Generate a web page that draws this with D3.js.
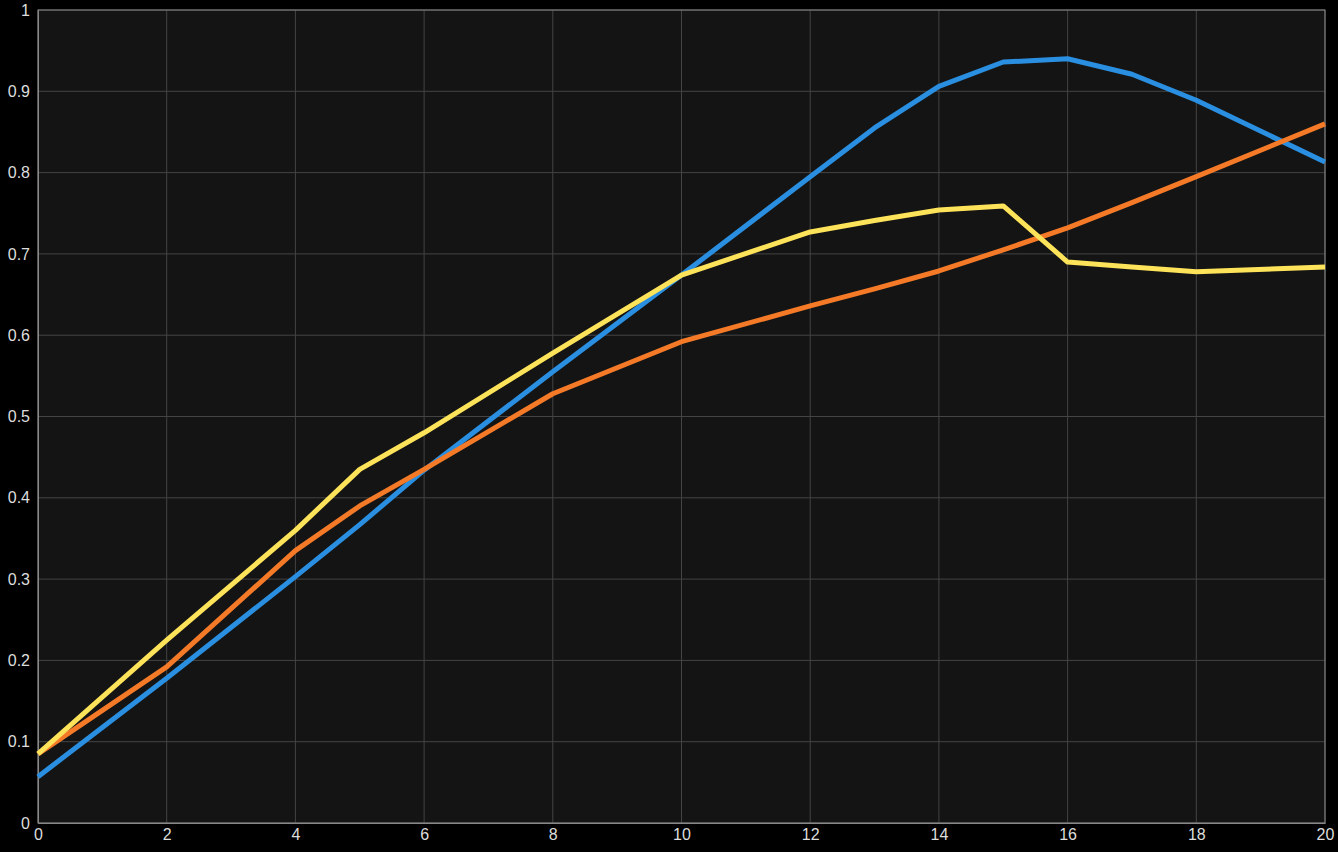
<!DOCTYPE html>
<html>
<head>
<meta charset="utf-8">
<script src="https://cdn.jsdelivr.net/npm/d3@7.9.0/dist/d3.min.js"></script>
<style>
  body { margin: 0; background: #000; }
  svg { display: block; }
  text { font-family: "Liberation Sans", Arial, sans-serif; }
</style>
</head>
<body>
<svg id="chart" width="1338" height="852"></svg>
<script>
// Series data
const xs = [0, 2, 4, 5, 6, 8, 10, 12, 13, 14, 15, 16, 17, 18, 20];
const blue   = [0.057, 0.178, 0.303, 0.367, 0.434, 0.555, 0.674, 0.795, 0.855, 0.906, 0.936, 0.940, 0.921, 0.889, 0.813];
const orange = [0.085, 0.192, 0.335, 0.390, 0.435, 0.528, 0.592, 0.636, 0.657, 0.679, 0.705, 0.732, 0.763, 0.795, 0.860];
const yellow = [0.085, 0.225, 0.360, 0.435, 0.480, 0.578, 0.674, 0.727, 0.741, 0.754, 0.759, 0.690, 0.684, 0.678, 0.684];
const xTicks = [0, 2, 4, 6, 8, 10, 12, 14, 16, 18, 20];
const yTicks = [0, 0.1, 0.2, 0.3, 0.4, 0.5, 0.6, 0.7, 0.8, 0.9, 1];

const svg = d3.select('#chart');
const mLeft = 38, mRight = 1325, mTop = 10, mBottom = 823;

const x = d3.scaleLinear().domain([0, 20]).range([mLeft, mRight]);
const y = d3.scaleLinear().domain([0, 1]).range([mBottom, mTop]);

// Plot background
svg.append('rect')
  .attr('x', mLeft).attr('y', mTop)
  .attr('width', mRight - mLeft).attr('height', mBottom - mTop)
  .attr('fill', '#141414');

// Grid
svg.append('g').selectAll('line').data(xTicks).join('line')
  .attr('x1', d => x(d)).attr('x2', d => x(d))
  .attr('y1', mTop).attr('y2', mBottom)
  .attr('stroke', '#444').attr('stroke-width', 1);
svg.append('g').selectAll('line').data(yTicks).join('line')
  .attr('x1', mLeft).attr('x2', mRight)
  .attr('y1', d => y(d)).attr('y2', d => y(d))
  .attr('stroke', '#444').attr('stroke-width', 1);

// Axes
const xAxis = svg.append('g')
  .attr('transform', `translate(0,${mBottom})`)
  .call(d3.axisBottom(x).tickValues(xTicks).tickSize(0).tickPadding(6).tickFormat(d3.format('d')));
const yAxis = svg.append('g')
  .attr('transform', `translate(${mLeft},0)`)
  .call(d3.axisLeft(y).tickValues(yTicks).tickSize(0).tickPadding(8).tickFormat(d => d === 0 || d === 1 ? d : d3.format('.1f')(d)));
[xAxis, yAxis].forEach(g => {
  g.select('.domain').attr('stroke', '#888');
  g.selectAll('text').attr('fill', '#ddd').attr('font-size', 16);
});

// Frame
svg.append('rect')
  .attr('x', mLeft).attr('y', mTop)
  .attr('width', mRight - mLeft).attr('height', mBottom - mTop)
  .attr('fill', 'none').attr('stroke', '#888');

// Lines
const line = d3.line().x((d, i) => x(xs[i])).y(d => y(d));
[[blue, '#2a8fe0'], [orange, '#f47a28'], [yellow, '#fde35a']].forEach(([data, color]) => {
  svg.append('path')
    .attr('d', line(data))
    .attr('fill', 'none')
    .attr('stroke', color)
    .attr('stroke-width', 5)
    .attr('stroke-linejoin', 'round');
});
</script>
</body>
</html>
